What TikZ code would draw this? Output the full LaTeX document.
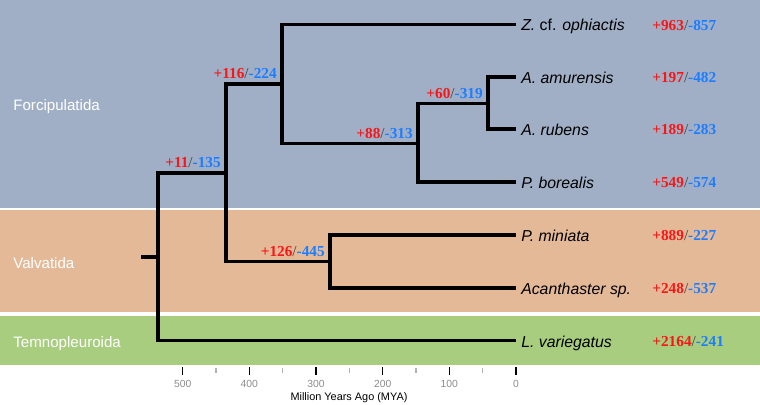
\documentclass[tikz,border=0pt]{standalone}
\usepackage{fontspec}
\setmainfont{Liberation Sans}
\newfontfamily\cntfont{Liberation Serif}
\usepackage{tikz}
\usetikzlibrary{positioning}
\usepackage{xcolor}
\definecolor{forcip}{RGB}{160,175,198}
\definecolor{valvat}{RGB}{228,185,151}
\definecolor{temnop}{RGB}{168,205,127}
\definecolor{gainred}{RGB}{250,22,22}
\definecolor{lossblue}{RGB}{28,125,255}
\definecolor{tickgray}{RGB}{140,140,140}
\tikzset{%
	branch/.style={
		line width=1.85pt,
		black
	},
	tip label/.style={
		font=\fontsize{9}{10}\selectfont\itshape,
		inner sep=0pt,
		text height=7.4pt,
		text depth=0pt
	},
	gain loss/.style={
		font=\cntfont\fontsize{8.7}{10}\selectfont,
		inner sep=0pt,
		text height=6.6pt,
		text depth=0pt
	},
	clade label/.style={
		font=\fontsize{8.6}{10}\selectfont,
		text=white,
		inner sep=0pt,
		anchor=base west
	},
	tick label/.style={
		font=\fontsize{5.9}{7}\selectfont,
		text=tickgray,
		inner sep=0pt
	},
}
\newcommand{\gainloss}[2]{\textbf{\color{gainred}+#1}\textcolor{black!75}{/}\textbf{\color{lossblue}-#2}}

\begin{document}
\begin{tikzpicture}[x=0.02cm, y=-0.02cm]
		\useasboundingbox (0,0) rectangle (760,405);
		
		% Draw the order bands
		\fill[forcip] (0,0) rectangle (760,207.7);
		\fill[valvat] (0,210.5) rectangle (760,312.3);
		\fill[temnop] (0,315.7) rectangle (760,365);
		\node[clade label] (forc) at (13,110.8) {Forcipulatida};
		\node[clade label] (valv) at (13,268.4) {Valvatida};
		\node[clade label] (temn) at (13,347.5) {Temnopleuroida};
		
		% Tree nodes
		\coordinate (stem) at (141,257);
		\coordinate (root) at (158,257);
		\coordinate (n1) at (226,173);
		\coordinate (n2) at (282,84);
		\coordinate (n3) at (418,143.5);
		\coordinate (n4) at (488,103.5);
		\coordinate (n5) at (330,261.5);
		\coordinate (zo) at (516,24.5);
		\coordinate (aa) at (516,77);
		\coordinate (ar) at (516,129);
		\coordinate (pb) at (516,182);
		\coordinate (pm) at (516,235);
		\coordinate (ac) at (516,288);
		\coordinate (lv) at (516,340.5);
		
		% Draw the branches
		\draw[branch] (stem) -- (root);
		\draw[branch] (root) |- (n1);
		\draw[branch] (root) |- (lv);
		\draw[branch] (n1) |- (n2);
		\draw[branch] (n1) |- (n5);
		\draw[branch] (n2) |- (zo);
		\draw[branch] (n2) |- (n3);
		\draw[branch] (n3) |- (n4);
		\draw[branch] (n3) |- (pb);
		\draw[branch] (n4) |- (aa);
		\draw[branch] (n4) |- (ar);
		\draw[branch] (n5) |- (pm);
		\draw[branch] (n5) |- (ac);
		
		% Species names
		\node[tip label, right=2.8pt of zo] (lzo) {Z. \textup{cf.} ophiactis};
		\node[tip label, right=2.8pt of aa] (laa) {A. amurensis};
		\node[tip label, right=2.8pt of ar] (lar) {A. rubens};
		\node[tip label, right=2.8pt of pb] (lpb) {P. borealis};
		\node[tip label, right=2.8pt of pm] (lpm) {P. miniata};
		\node[tip label, right=2.8pt of ac] (lac) {Acanthaster sp.};
		\node[tip label, right=2.8pt of lv] (llv) {L. variegatus};
		
		% Gains and losses on the tips
		\node[gain loss, anchor=west] (czo) at (652,24.5) {\gainloss{963}{857}};
		\node[gain loss, anchor=west] (caa) at (652,77) {\gainloss{197}{482}};
		\node[gain loss, anchor=west] (car) at (652,129) {\gainloss{189}{283}};
		\node[gain loss, anchor=west] (cpb) at (652,182) {\gainloss{549}{574}};
		\node[gain loss, anchor=west] (cpm) at (652,235) {\gainloss{889}{227}};
		\node[gain loss, anchor=west] (cac) at (652,288) {\gainloss{248}{537}};
		\node[gain loss, anchor=west] (clv) at (652,340.5) {\gainloss{2164}{241}};
		
		% Gains and losses on the inner nodes
		\node[gain loss, above left=2.7pt and 2.8pt of n1] (g1) {\gainloss{11}{135}};
		\node[gain loss, above left=2.7pt and 2.8pt of n2] (g2) {\gainloss{116}{224}};
		\node[gain loss, above left=2.7pt and 2.8pt of n3] (g3) {\gainloss{88}{313}};
		\node[gain loss, above left=2.7pt and 2.8pt of n4] (g4) {\gainloss{60}{319}};
		\node[gain loss, above left=2.7pt and 2.8pt of n5] (g5) {\gainloss{126}{445}};
		
		% Draw the time axis
		\foreach \t in {0,100,...,500} {
			\draw[line width=0.9pt] ({516-0.6667*\t},367) -- ({516-0.6667*\t},374.5);
			\node[tick label] (t\t) at ({516-0.6667*\t},383.7) {\t};
		}
		\foreach \t in {50,150,...,450}
			\draw[line width=0.6pt, black!30] ({516-0.6667*\t},368) -- ({516-0.6667*\t},372.5);
		\node[font=\fontsize{6.2}{7}\selectfont, inner sep=0pt] (xlabel) at (349,398) {Million Years Ago (MYA)};
	\end{tikzpicture}
\end{document}
